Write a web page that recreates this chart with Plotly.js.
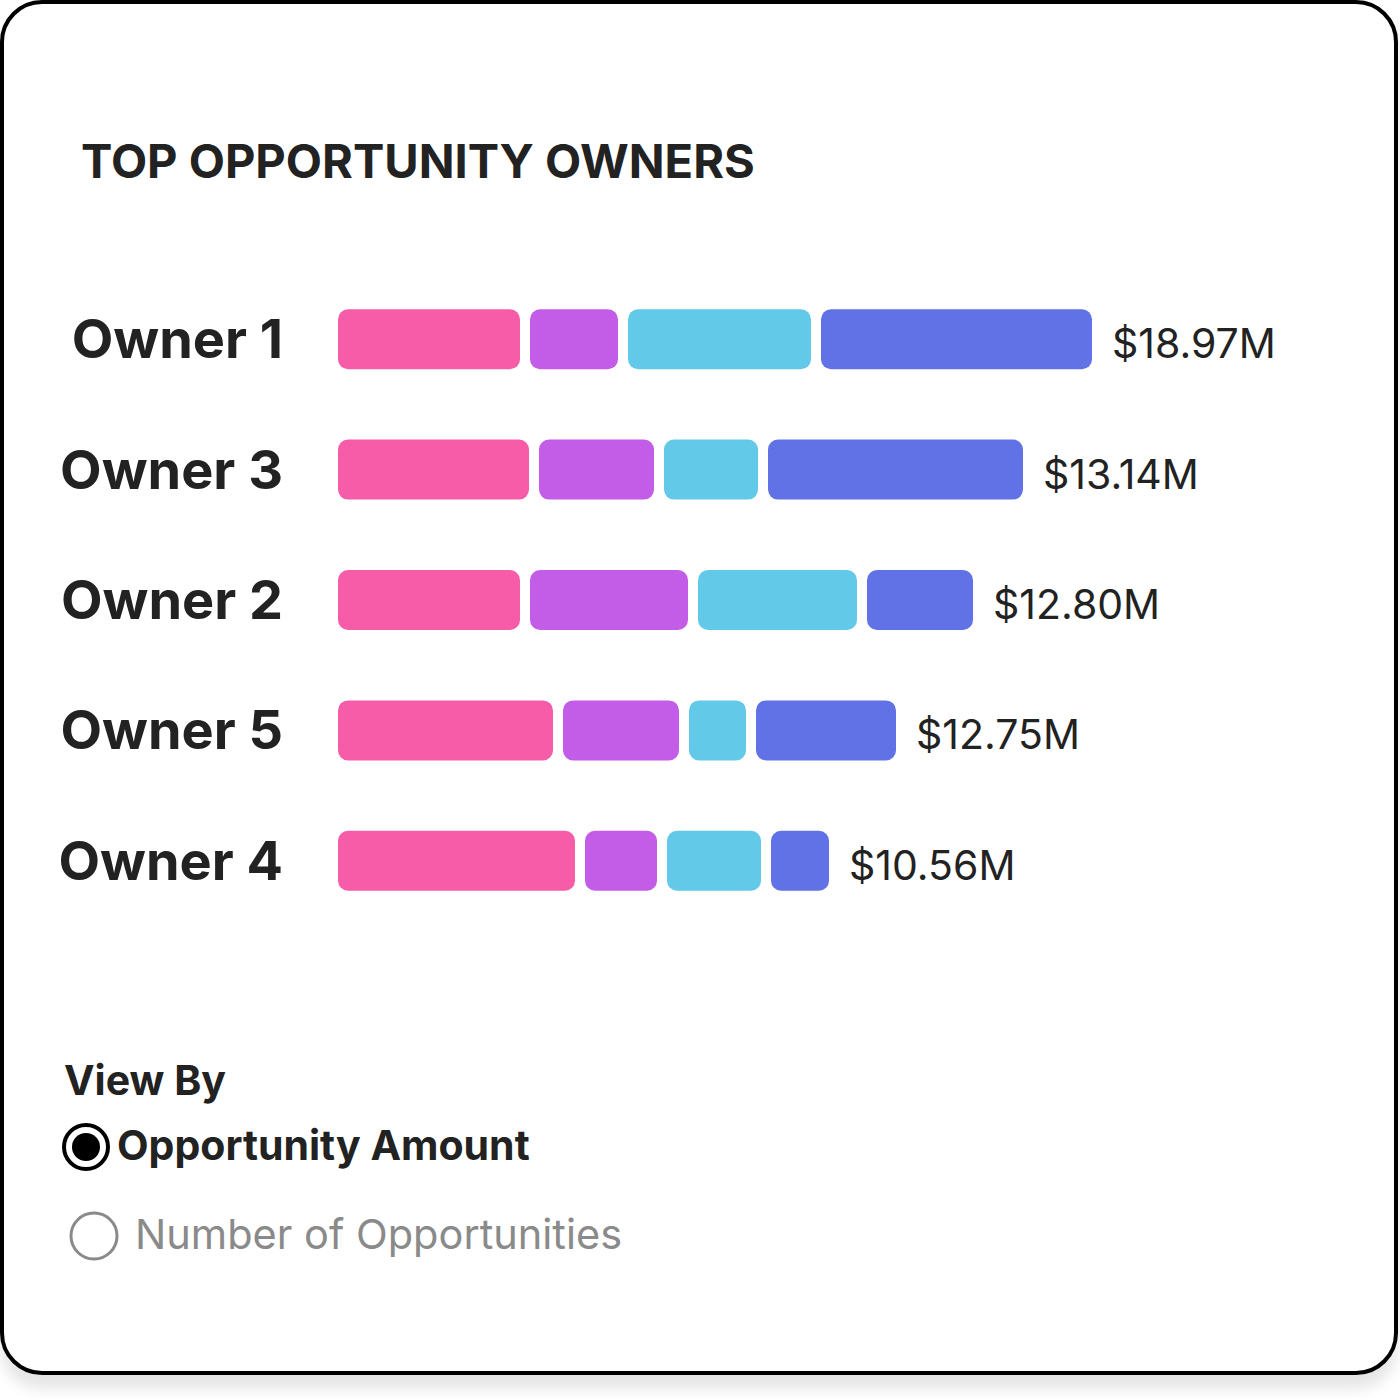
<!DOCTYPE html>
<html>
<head>
<meta charset="utf-8">
<script src="https://cdn.plot.ly/plotly-3.0.1.min.js"></script>
<style>
  html, body { margin: 0; padding: 0; background: #ffffff; }
  #wrap { position: relative; width: 1400px; height: 1400px; overflow: hidden; }
  #card {
    position: absolute; left: 0px; top: 0px; width: 1398px; height: 1375px;
    box-sizing: border-box; border: 4px solid #000; border-radius: 42px;
    background: #fff; box-shadow: 0 14px 14px rgba(0,0,0,0.10);
  }
  #chart { position: absolute; left: 0; top: 0; width: 1400px; height: 1400px; }
</style>
</head>
<body>
<div id="wrap">
  <div id="card"></div>
  <div id="chart"></div>
</div>
<script>
// ---- Data (segment lengths in chart units) ----
const owners = ['Owner 1', 'Owner 3', 'Owner 2', 'Owner 5', 'Owner 4'];
const totalLabels = ['$18.97M', '$13.14M', '$12.80M', '$12.75M', '$10.56M'];
const pinkSeg   = [182, 191, 182, 215, 237];
const purpleSeg = [88, 115, 158, 116, 72];
const cyanSeg   = [183, 94, 159, 57, 94];
const blueSeg   = [271, 255, 106, 140, 58];
const segmentNames = ['Segment A', 'Segment B', 'Segment C', 'Segment D'];
const titleText = 'TOP OPPORTUNITY OWNERS';
const viewByText = 'View By';
const optionLabels = ['Opportunity Amount', 'Number of Opportunities'];

// ---- Styles ----
const colors = ['#F75CA8', '#C35CE6', '#62C9E9', '#6172E6'];
const GAP = 10;
const BAR_W = 0.46;
const RADIUS = 10;
const TEXT = '#222222';

const segments = [pinkSeg, purpleSeg, cyanSeg, blueSeg];

// layout geometry (pixels)
const W = 1400, H = 1400;
const ML = 338, MR = 62, MT = 274, MB = 474;
const plotW = W - ML - MR, plotH = H - MT - MB;
const px = x => (x - ML) / plotW;
const py = y => (H - MB - y) / plotH;

// compute starts
const starts = segments.map(() => []);
const ends = [];
owners.forEach((o, i) => {
  let pos = 0;
  segments.forEach((seg, k) => {
    starts[k][i] = pos;
    pos += seg[i];
    if (k < segments.length - 1) pos += GAP;
  });
  ends[i] = pos;
});

const traces = segments.map((seg, k) => ({
  type: 'bar', orientation: 'h', y: owners,
  base: starts[k], x: seg,
  width: BAR_W, name: segmentNames[k], showlegend: false,
  marker: { color: colors[k], cornerradius: RADIUS, opacity: 1, line: { width: 0 } },
  hoverinfo: 'skip'
}));

const annotations = owners.map((o, i) => ({
  x: ends[i], y: o, xref: 'x', yref: 'y',
  text: totalLabels[i], showarrow: false,
  xanchor: 'left', yanchor: 'middle', xshift: 18, yshift: -4,
  font: { family: 'Inter, Roboto, sans-serif', size: 41, color: TEXT }
}));

annotations.push({
  x: px(62), y: py(1080), xref: 'paper', yref: 'paper',
  text: viewByText, showarrow: false, xanchor: 'left', yanchor: 'middle',
  font: { family: 'Inter, Roboto, sans-serif', size: 41, weight: 700, color: TEXT }
});
annotations.push({
  x: px(115), y: py(1145), xref: 'paper', yref: 'paper',
  text: optionLabels[0], showarrow: false, xanchor: 'left', yanchor: 'middle',
  font: { family: 'Inter, Roboto, sans-serif', size: 41, weight: 700, color: TEXT }
});
annotations.push({
  x: px(133), y: py(1234), xref: 'paper', yref: 'paper',
  text: optionLabels[1], showarrow: false, xanchor: 'left', yanchor: 'middle',
  font: { family: 'Inter, Roboto, sans-serif', size: 41.5, weight: 400, color: '#8A8A8A' }
});

const shapes = [
  { type: 'circle', xref: 'paper', yref: 'paper',
    x0: px(64), x1: px(108), y0: py(1169), y1: py(1125),
    line: { color: '#000', width: 4 }, fillcolor: 'rgba(0,0,0,0)' },
  { type: 'circle', xref: 'paper', yref: 'paper',
    x0: px(72), x1: px(100), y0: py(1161), y1: py(1133),
    line: { width: 0 }, fillcolor: '#000' },
  { type: 'circle', xref: 'paper', yref: 'paper',
    x0: px(71), x1: px(117), y0: py(1259), y1: py(1213),
    line: { color: '#8A8A8A', width: 3 }, fillcolor: 'rgba(0,0,0,0)' }
];

const layout = {
  width: W, height: H,
  margin: { l: ML, r: MR, t: MT, b: MB, pad: 0 },
  paper_bgcolor: 'rgba(0,0,0,0)', plot_bgcolor: 'rgba(0,0,0,0)',
  barmode: 'overlay',
  showlegend: false,
  hovermode: false,
  title: {
    text: titleText, x: 81 / W, xanchor: 'left', xref: 'container',
    y: 1 - 162 / H, yanchor: 'middle', yref: 'container',
    font: { family: 'Inter, Roboto, sans-serif', size: 47, weight: 700, color: TEXT }
  },
  xaxis: { range: [0, plotW], visible: false, fixedrange: true },
  yaxis: {
    type: 'category', categoryorder: 'array', categoryarray: owners,
    range: [owners.length - 0.5, -0.5],
    showgrid: false, zeroline: false, showline: false, ticks: '',
    ticklabelstandoff: 54, fixedrange: true,
    tickfont: { family: 'Inter, Roboto, sans-serif', size: 54, weight: 700, color: TEXT }
  },
  annotations: annotations,
  shapes: shapes
};

Plotly.newPlot('chart', traces, layout, { displayModeBar: false, staticPlot: true });
</script>
</body>
</html>
